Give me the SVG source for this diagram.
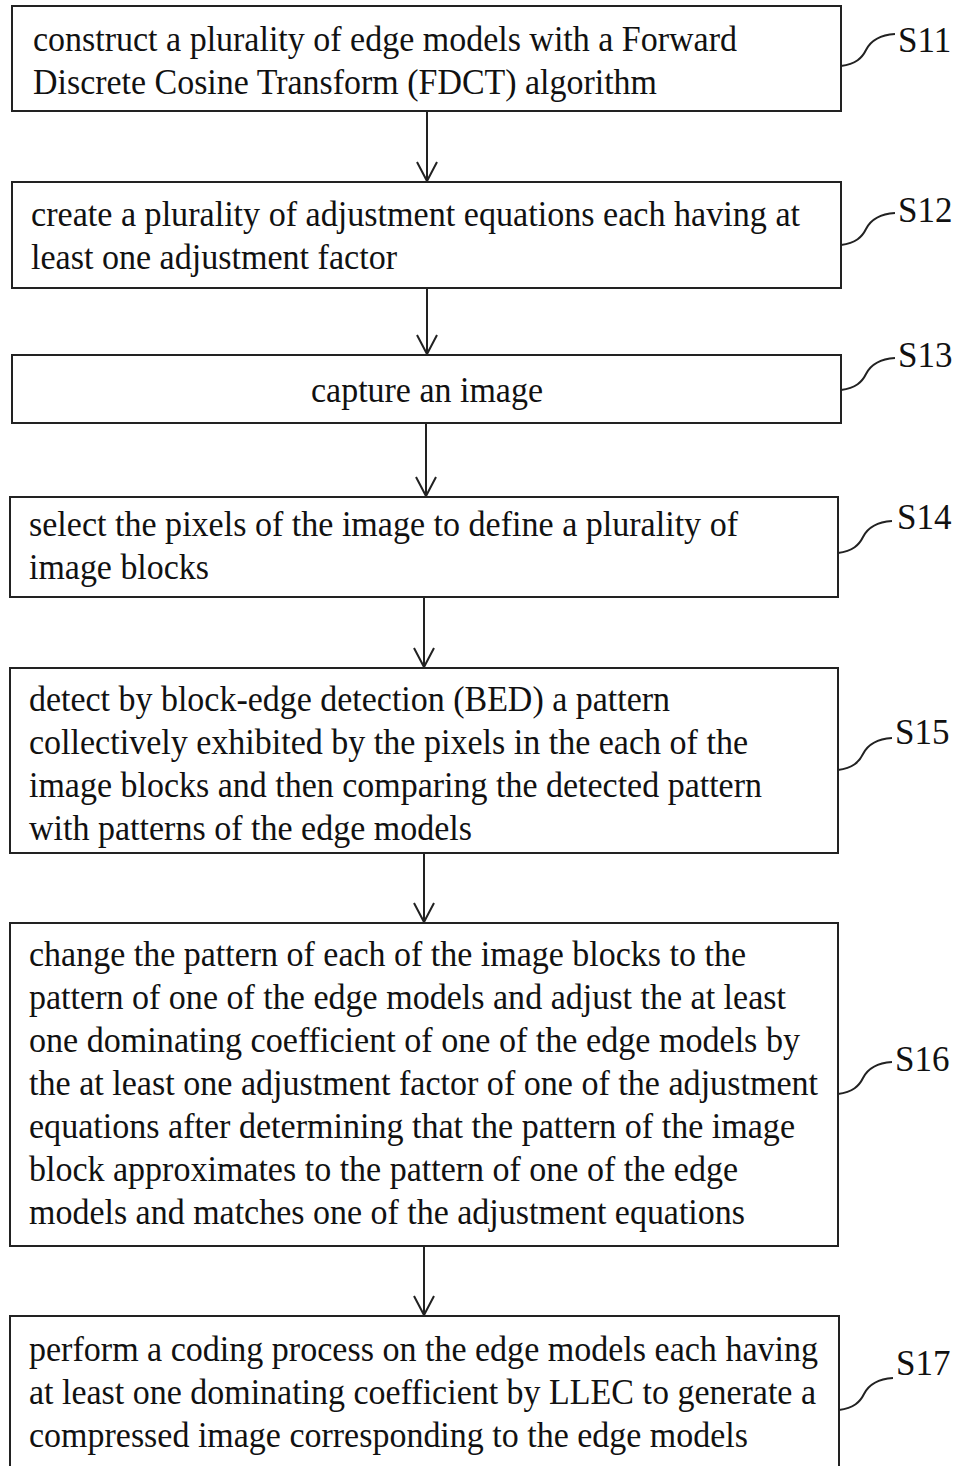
<svg xmlns="http://www.w3.org/2000/svg" width="956" height="1466" viewBox="0 0 956 1466">
<style>
.box{fill:#fff;stroke:#222;stroke-width:2}
.t{font-family:'Liberation Serif','DejaVu Serif',serif;font-size:36px;fill:#111}
.lbl{font-family:'Liberation Serif','DejaVu Serif',serif;font-size:35px;fill:#111}
.lead{fill:none;stroke:#222;stroke-width:2}
.arr{fill:none;stroke:#222;stroke-width:2}
</style>
<defs>
<marker id="ah" markerUnits="userSpaceOnUse" markerWidth="26" markerHeight="26" viewBox="-23 -13 26 26" refX="0" refY="0" orient="auto">
<path d="M-19,-10 L0,0 L-19,10" fill="none" stroke="#222" stroke-width="2"/>
</marker>
</defs>
<rect width="956" height="1466" fill="#fff"/>
<g id="connectors">
<line class="arr" x1="427" y1="111" x2="427" y2="181" marker-end="url(#ah)"/>
<line class="arr" x1="427" y1="288" x2="427" y2="354" marker-end="url(#ah)"/>
<line class="arr" x1="426" y1="423" x2="426" y2="496" marker-end="url(#ah)"/>
<line class="arr" x1="424" y1="597" x2="424" y2="667" marker-end="url(#ah)"/>
<line class="arr" x1="424" y1="853" x2="424" y2="922" marker-end="url(#ah)"/>
<line class="arr" x1="424" y1="1246" x2="424" y2="1315" marker-end="url(#ah)"/>
</g>
<g id="S11">
<rect class="box" x="12" y="6" width="829" height="105"/>
<text class="t" x="33" y="51" textLength="704" lengthAdjust="spacingAndGlyphs">construct a plurality of edge models with a Forward</text>
<text class="t" x="33" y="94" textLength="624" lengthAdjust="spacingAndGlyphs">Discrete Cosine Transform (FDCT) algorithm</text>
<path class="lead" d="M841,66 C856,64 862,58 866,50 C871,40 880,35 895,34"/>
<text class="lbl" x="898" y="52">S11</text>
</g>
<g id="S12">
<rect class="box" x="12" y="182" width="829" height="106"/>
<text class="t" x="31" y="226" textLength="769" lengthAdjust="spacingAndGlyphs">create a plurality of adjustment equations each having at</text>
<text class="t" x="31" y="269" textLength="366" lengthAdjust="spacingAndGlyphs">least one adjustment factor</text>
<path class="lead" d="M841,245 C856,243 862,237 866,229 C871,219 880,214 895,213"/>
<text class="lbl" x="898" y="222">S12</text>
</g>
<g id="S13">
<rect class="box" x="12" y="355" width="829" height="68"/>
<text class="t" x="311" y="402" textLength="232" lengthAdjust="spacingAndGlyphs">capture an image</text>
<path class="lead" d="M841,390 C856,388 862,382 866,374 C871,364 880,359 895,358"/>
<text class="lbl" x="898" y="367">S13</text>
</g>
<g id="S14">
<rect class="box" x="10" y="497" width="828" height="100"/>
<text class="t" x="29" y="536" textLength="709" lengthAdjust="spacingAndGlyphs">select the pixels of the image to define a plurality of</text>
<text class="t" x="29" y="579" textLength="180" lengthAdjust="spacingAndGlyphs">image blocks</text>
<path class="lead" d="M838,553 C853,551 859,545 863,537 C868,527 877,522 892,521"/>
<text class="lbl" x="897" y="529">S14</text>
</g>
<g id="S15">
<rect class="box" x="10" y="668" width="828" height="185"/>
<text class="t" x="29" y="711" textLength="641" lengthAdjust="spacingAndGlyphs">detect by block-edge detection (BED) a pattern</text>
<text class="t" x="29" y="754" textLength="719" lengthAdjust="spacingAndGlyphs">collectively exhibited by the pixels in the each of the</text>
<text class="t" x="29" y="797" textLength="733" lengthAdjust="spacingAndGlyphs">image blocks and then comparing the detected pattern</text>
<text class="t" x="29" y="840" textLength="443" lengthAdjust="spacingAndGlyphs">with patterns of the edge models</text>
<path class="lead" d="M838,770 C853,768 859,762 863,754 C868,744 877,739 892,738"/>
<text class="lbl" x="895" y="744">S15</text>
</g>
<g id="S16">
<rect class="box" x="10" y="923" width="828" height="323"/>
<text class="t" x="29" y="966" textLength="717" lengthAdjust="spacingAndGlyphs">change the pattern of each of the image blocks to the</text>
<text class="t" x="29" y="1009" textLength="757" lengthAdjust="spacingAndGlyphs">pattern of one of the edge models and adjust the at least</text>
<text class="t" x="29" y="1052" textLength="771" lengthAdjust="spacingAndGlyphs">one dominating coefficient of one of the edge models by</text>
<text class="t" x="29" y="1095" textLength="789" lengthAdjust="spacingAndGlyphs">the at least one adjustment factor of one of the adjustment</text>
<text class="t" x="29" y="1138" textLength="766" lengthAdjust="spacingAndGlyphs">equations after determining that the pattern of the image</text>
<text class="t" x="29" y="1181" textLength="709" lengthAdjust="spacingAndGlyphs">block approximates to the pattern of one of the edge</text>
<text class="t" x="29" y="1224" textLength="716" lengthAdjust="spacingAndGlyphs">models and matches one of the adjustment equations</text>
<path class="lead" d="M838,1094 C853,1092 859,1086 863,1078 C868,1068 877,1063 892,1062"/>
<text class="lbl" x="895" y="1071">S16</text>
</g>
<g id="S17">
<path class="box" d="M10,1470 L10,1316 L839,1316 L839,1470"/>
<text class="t" x="29" y="1361" textLength="789" lengthAdjust="spacingAndGlyphs">perform a coding process on the edge models each having</text>
<text class="t" x="29" y="1404" textLength="787" lengthAdjust="spacingAndGlyphs">at least one dominating coefficient by LLEC to generate a</text>
<text class="t" x="29" y="1447" textLength="719" lengthAdjust="spacingAndGlyphs">compressed image corresponding to the edge models</text>
<path class="lead" d="M839,1410 C854,1408 860,1402 864,1394 C869,1384 878,1379 893,1378"/>
<text class="lbl" x="896" y="1375">S17</text>
</g>
</svg>
